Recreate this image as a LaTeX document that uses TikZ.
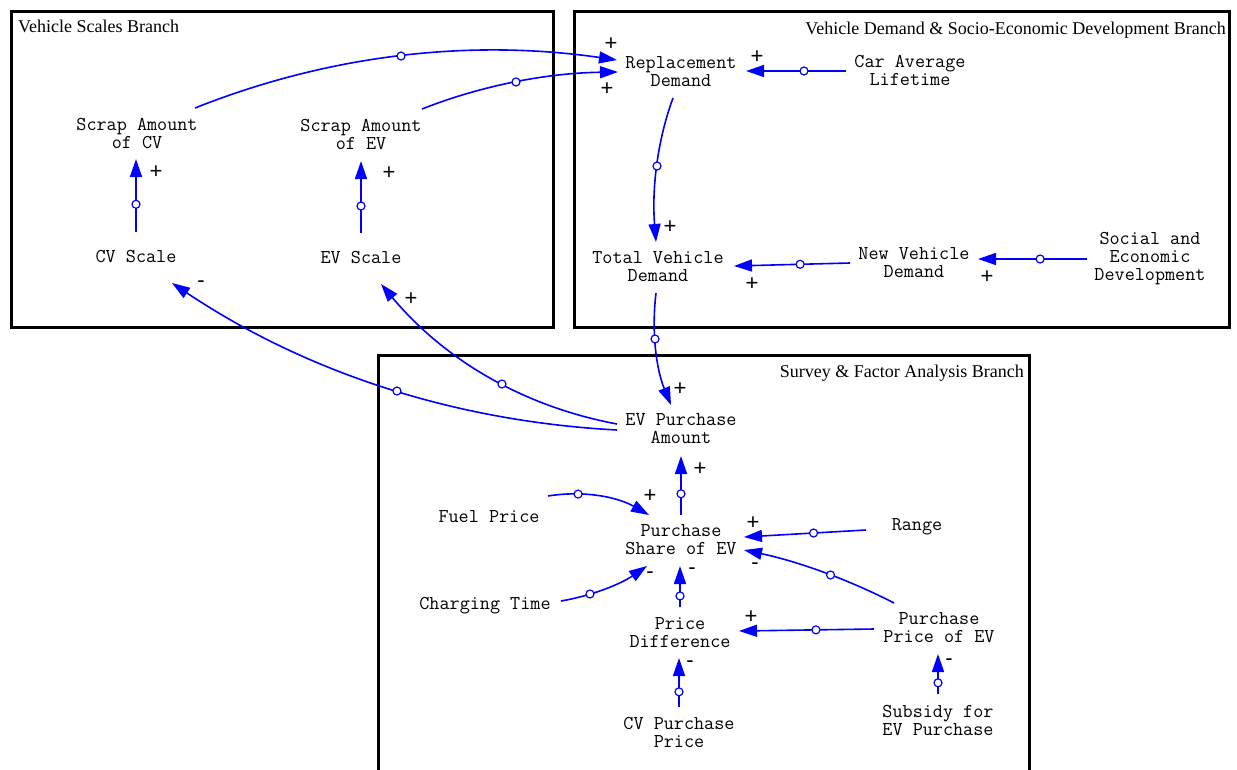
\documentclass[tikz,border=0pt]{standalone}
\usepackage{fontspec}
\setmainfont{Liberation Serif}
\newfontfamily\polfont{Liberation Sans}
\usetikzlibrary{arrows.meta,calc}
\definecolor{linkblue}{RGB}{0,0,255}

\begin{document}
\begin{tikzpicture}[x=1pt,y=-1pt,
  var/.style={font=\ttfamily\fontsize{19.6}{18}\selectfont, align=center, inner sep=0pt},
  branchtitle/.style={font=\fontsize{18}{20}\selectfont, inner sep=0pt},
  frame/.style={draw=black, line width=3pt},
  link/.style={draw=linkblue, line width=1.6pt, -{Triangle[length=18pt,width=12pt]}},
  valve/.style={circle, draw=linkblue, fill=white, line width=1.2pt, minimum size=8pt, inner sep=0pt},
  pol/.style={font=\polfont\fontsize{22}{22}\selectfont, inner sep=0pt}]

\useasboundingbox (0,0) rectangle (1237,769);
\clip (0,0) rectangle (1237,769);
\fill[white] (0,0) rectangle (1237,769);

% branch frames
\draw[frame] (11.5,11.5) rectangle (553.5,327.5);
\draw[frame] (574.5,11.5) rectangle (1229.5,327.5);
\draw[frame] (378.5,355) rectangle (1029.5,800);

\node[branchtitle, anchor=base west] (t1) at (18,32) {Vehicle Scales Branch};
\node[branchtitle, anchor=base east] (t2) at (1226,34) {Vehicle Demand \& Socio-Economic Development Branch};
\node[branchtitle, anchor=base east] (t3) at (1024,377) {Survey \& Factor Analysis Branch};

% variables
\node[var] (scv) at (137,133) {Scrap Amount\\of CV};
\node[var] (sev) at (361,134) {Scrap Amount\\of EV};
\node[var] (cvs) at (136,257) {CV Scale};
\node[var] (evs) at (361,258) {EV Scale};
\node[var] (rd)  at (681,72)  {Replacement\\Demand};
\node[var] (cal) at (910,70)  {Car Average\\Lifetime};
\node[var] (tvd) at (658,267) {Total Vehicle\\Demand};
\node[var] (nvd) at (914,263) {New Vehicle\\Demand};
\node[var] (sed) at (1150,259) {Social and\\Economic\\Development};
\node[var] (epa) at (681,429) {EV Purchase\\Amount};
\node[var] (fp)  at (489,517) {Fuel Price};
\node[var] (pse) at (681,540) {Purchase\\Share of EV};
\node[var] (rng) at (917,527) {Range};
\node[var] (ct)  at (485,606) {Charging Time};
\node[var] (pd)  at (680,633) {Price\\Difference};
\node[var] (ppe) at (939,628) {Purchase\\Price of EV};
\node[var] (cpp) at (679,732) {CV Purchase\\Price};
\node[var] (sub) at (938,720) {Subsidy for\\EV Purchase};

% causal links
\draw[link] ($(scv)+(58,-25)$) .. controls (329,54.7) and (469.7,38.7) .. ($(rd)+(-64,-12)$) node[valve,pos=0.5] (v1) {};
\draw[link] ($(sev)+(61,-25)$) .. controls (482,85.3) and (547.3,73) .. ($(rd)+(-63,0)$) node[valve,pos=0.5] (v2) {};
\draw[link] ($(cvs)+(0,-25)$) -- ($(scv)+(-1,26)$) node[valve,pos=0.38] (v3) {};
\draw[link] ($(evs)+(0,-25)$) -- ($(sev)+(0,27)$) node[valve,pos=0.375] (v4) {};
\draw[link] ($(cal)+(-64,1)$) -- ($(rd)+(65,-1)$) node[valve,pos=0.42] (v5) {};
\draw[link] ($(rd)+(-8,26)$) .. controls (657.3,140.7) and (651.7,188.7) .. ($(tvd)+(-2,-25)$) node[valve,pos=0.5] (v6) {};
\draw[link] ($(nvd)+(-64,0)$) -- ($(tvd)+(76,-1)$) node[valve,pos=0.43] (v7) {};
\draw[link] ($(sed)+(-63,0)$) -- ($(nvd)+(64,-4)$) node[valve,pos=0.43] (v8) {};
\draw[link] ($(tvd)+(-2,26)$) .. controls (651.3,332) and (656.3,369.3) .. ($(epa)+(-10,-24)$) node[valve,pos=0.4] (v9) {};
\draw[link] ($(epa)+(-64,1)$) .. controls (454.1,421.3) and (305.8,372.3) .. ($(cvs)+(36,26)$) node[valve,pos=0.47] (v10) {};
\draw[link] ($(epa)+(-64,-5)$) .. controls (523.2,406.5) and (444.5,359.9) .. ($(evs)+(20,26)$) node[valve,pos=0.44] (v11) {};
\draw[link] ($(pse)+(0,-25)$) -- ($(epa)+(0,27)$) node[valve,pos=0.36] (v12) {};
\draw[link] ($(fp)+(59,-21)$) .. controls (583,490.3) and (616.7,496.6) .. ($(pse)+(-32,-25)$) node[valve,pos=0.29] (v13) {};
\draw[link] ($(rng)+(-51,3)$) -- ($(pse)+(63,-3)$) node[valve,pos=0.43] (v14) {};
\draw[link] ($(ppe)+(-45,-25)$) .. controls (847.4,579) and (797.4,561.3) .. ($(pse)+(63,10)$) node[valve,pos=0.44] (v15) {};
\draw[link] ($(ct)+(76,-5)$) .. controls (591.9,595.7) and (620.5,584.1) .. ($(pse)+(-34,26)$) node[valve,pos=0.32] (v16) {};
\draw[link] ($(pd)+(0,-26)$) -- ($(pse)+(-1,26)$) node[valve,pos=0.27] (v17) {};
\draw[link] ($(ppe)+(-65,1)$) -- ($(pd)+(59,-2)$) node[valve,pos=0.43] (v18) {};
\draw[link] ($(cpp)+(0,-25)$) -- ($(pd)+(-1,25)$) node[valve,pos=0.31] (v19) {};
\draw[link] ($(sub)+(0,-26)$) -- ($(ppe)+(-1,26)$) node[valve,pos=0.28] (v20) {};

% link polarities
\node[pol] (p1)  at (611,44)  {+};
\node[pol] (p2)  at (607,89)  {+};
\node[pol] (p3)  at (156,172) {+};
\node[pol] (p4)  at (389,173) {+};
\node[pol] (p5)  at (757,57)  {+};
\node[pol] (p6)  at (670,227) {+};
\node[pol] (p7)  at (752,284) {+};
\node[pol] (p8)  at (987,277) {+};
\node[pol] (p9)  at (680,389) {+};
\node[pol] (p10) at (201,284) {-};
\node[pol] (p11) at (411,299) {+};
\node[pol] (p12) at (700,469) {+};
\node[pol] (p13) at (650,496) {+};
\node[pol] (p14) at (753,523) {+};
\node[pol] (p15) at (755,566) {-};
\node[pol] (p16) at (650,575) {-};
\node[pol] (p17) at (692,571) {-};
\node[pol] (p18) at (751,617) {+};
\node[pol] (p19) at (690,664) {-};
\node[pol] (p20) at (949,662) {-};
\end{tikzpicture}
\end{document}
